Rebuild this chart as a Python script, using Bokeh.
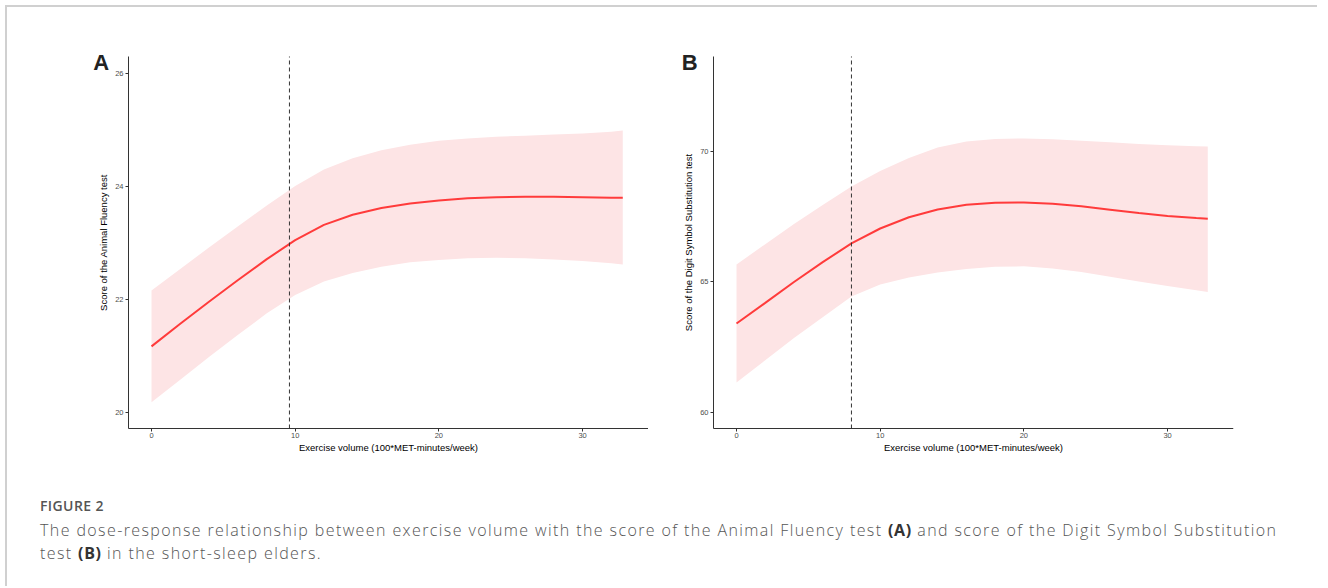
from bokeh.plotting import figure
from bokeh.models import Range1d, Label, Div, FixedTicker
from bokeh.layouts import row, column
from bokeh.embed import file_html
from bokeh.resources import INLINE

# ---- data ----
x_vals = [0, 2, 4, 6, 8, 10, 12, 14, 16, 18, 20, 22, 24, 26, 28, 30, 32, 32.8]

a_mean = [21.17, 21.57, 21.96, 22.34, 22.71, 23.05, 23.32, 23.50, 23.62, 23.70,
          23.75, 23.79, 23.81, 23.82, 23.82, 23.81, 23.80, 23.80]
a_upper = [22.16, 22.54, 22.92, 23.29, 23.66, 24.01, 24.30, 24.50, 24.64, 24.74,
           24.81, 24.85, 24.88, 24.90, 24.92, 24.94, 24.97, 24.99]
a_lower = [20.18, 20.58, 20.98, 21.37, 21.75, 22.08, 22.32, 22.47, 22.58, 22.66,
           22.70, 22.73, 22.74, 22.73, 22.71, 22.68, 22.64, 22.62]

b_mean = [63.41, 64.20, 65.00, 65.76, 66.48, 67.05, 67.48, 67.78, 67.96, 68.04,
          68.05, 68.00, 67.90, 67.77, 67.64, 67.53, 67.45, 67.42]
b_upper = [65.67, 66.45, 67.22, 67.95, 68.66, 69.25, 69.75, 70.15, 70.38, 70.48,
           70.50, 70.47, 70.41, 70.35, 70.29, 70.24, 70.20, 70.19]
b_lower = [61.15, 62.00, 62.85, 63.65, 64.44, 64.90, 65.17, 65.36, 65.50, 65.58,
           65.60, 65.52, 65.38, 65.20, 65.02, 64.85, 64.68, 64.62]

x_ticks = [0, 10, 20, 30]
a_yticks = [20, 22, 24, 26]
b_yticks = [60, 65, 70]
a_cut = 9.6
b_cut = 8.0

x_title = "Exercise volume (100*MET-minutes/week)"
a_ytitle = "Score of the Animal Fluency test"
b_ytitle = "Score of the Digit Symbol Substitution test"

# axis extents (x) and (y) for both panels
x_axis_lim = (-1.601, 34.59)
a_axis_lim = (19.717, 26.30)
b_axis_lim = (59.387, 73.64)

FONT = "Liberation Sans"


def panel(mean, upper, lower, yticks, x_start, y_lim, y_bottom, y_top, cut,
          ytitle, letter, letter_xy, frame_w, border_left, border_right):
    p = figure(frame_width=frame_w, frame_height=416,
               min_border_left=border_left, min_border_right=border_right,
               min_border_top=33, min_border_bottom=30,
               x_range=Range1d(x_start, x_axis_lim[1]),
               y_range=Range1d(y_bottom, y_top),
               output_backend="svg", toolbar_location=None, tools="")
    p.grid.visible = False
    p.outline_line_color = None
    p.background_fill_color = "white"
    p.border_fill_color = "white"

    p.varea(x=x_vals, y1=lower, y2=upper, fill_color="#fde4e5", fill_alpha=1.0)
    p.line(x=x_vals, y=mean, line_color="#ff3b3b", line_width=2)
    # vertical reference line at the cut point, spanning the axis extent
    p.segment(x0=[cut], y0=[y_lim[0]], x1=[cut], y1=[y_lim[1]],
              line_color="#333333", line_width=1, line_dash="4 3")

    for ax in (p.xaxis[0], p.yaxis[0]):
        ax.axis_line_color = "#333333"
        ax.axis_line_width = 1
        ax.major_tick_line_color = "#333333"
        ax.major_tick_out = 3
        ax.major_tick_in = 0
        ax.minor_tick_line_color = None
        ax.major_label_text_font = FONT
        ax.major_label_text_font_size = "7.5px"
        ax.major_label_text_color = "#4d4d4d"
        ax.major_label_standoff = 2
        ax.axis_label_text_font = FONT
        ax.axis_label_text_font_size = "9.5px"
        ax.axis_label_text_font_style = "normal"
        ax.axis_label_text_color = "black"
        ax.axis_label_standoff = 3
    p.xaxis.axis_label_standoff = 0

    p.xaxis.ticker = FixedTicker(ticks=x_ticks)
    p.yaxis.ticker = FixedTicker(ticks=yticks)
    p.xaxis.bounds = x_axis_lim
    p.yaxis.bounds = y_lim
    p.yaxis.fixed_location = x_axis_lim[0]
    p.xaxis.fixed_location = y_lim[0]
    p.xaxis.axis_label = x_title
    p.yaxis.axis_label = ytitle

    p.add_layout(Label(x=letter_xy[0], y=letter_xy[1], text=letter,
                       text_font=FONT, text_font_size="22px",
                       text_font_style="bold", text_color="#222222",
                       text_baseline="alphabetic", text_align="left"))
    return p


pa = panel(a_mean, a_upper, a_lower, a_yticks, -4.594, a_axis_lim, 19.221, 26.584,
           a_cut, a_ytitle, "A", (-4.06, 26.19), 563, 78, 0)
pb = panel(b_mean, b_upper, b_lower, b_yticks, -4.037, b_axis_lim, 58.314, 74.253,
           b_cut, b_ytitle, "B", (-3.81, 73.42), 555, 30, 40)

caption = Div(width=1300, height=90, text=(
    '<div style="font-family:\'Open Sans\';color:#555555;padding-left:28px;padding-top:6px;white-space:nowrap">'
    '<div style="font-size:14px;font-weight:600;line-height:18px;letter-spacing:0.4px;">FIGURE 2</div>'
    '<div style="font-size:16px;font-weight:300;line-height:23px;margin-top:4px;letter-spacing:1.4px;">'
    'The dose-response relationship between exercise volume with the score of the Animal Fluency test '
    '<b style="color:#333;font-weight:700;letter-spacing:0.6px">(A)</b> and score of the Digit Symbol Substitution<br>'
    'test <b style="color:#333;font-weight:700;letter-spacing:0.6px">(B)</b> in the short-sleep elders.</div></div>'))

layout = column(row(pa, pb), caption,
                styles={"border-top": "2px solid #d0d0d0",
                        "border-left": "2px solid #d0d0d0",
                        "margin-left": "5px", "margin-top": "5px"})

open("out.html", "w").write(file_html(layout, INLINE))
